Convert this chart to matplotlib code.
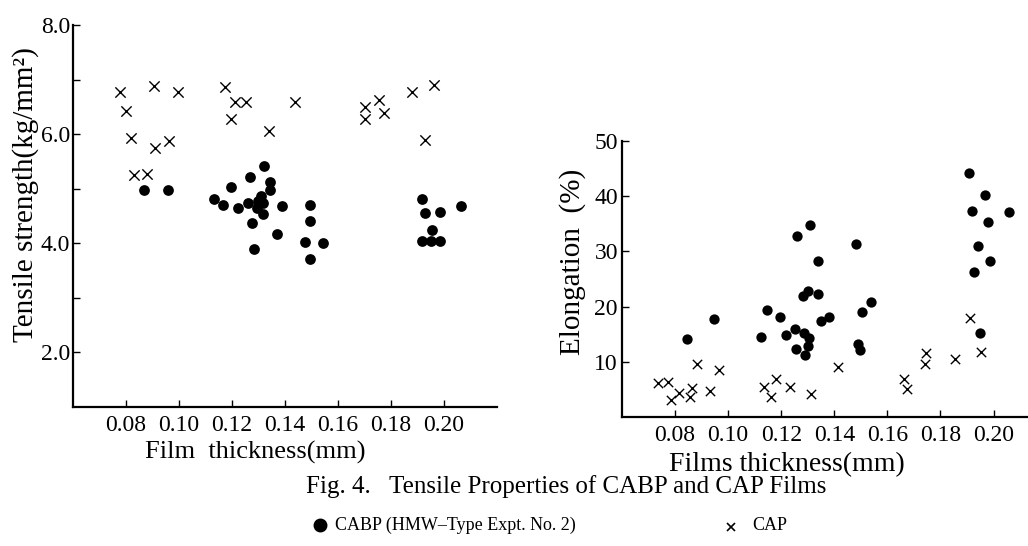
import numpy as np
import matplotlib
matplotlib.use("Agg")
import matplotlib.pyplot as plt
from matplotlib.lines import Line2D

plt.rcParams['font.family'] = ['Liberation Serif', 'DejaVu Serif']

# --- tensile strength (kg/mm2) vs film thickness (mm) ---
ts_cabp_x = [0.0867, 0.0960, 0.1132, 0.1167, 0.1198, 0.1224, 0.1259, 0.1268,
             0.1274, 0.1284, 0.1294, 0.1299, 0.1309, 0.1316, 0.1316, 0.1321,
             0.1342, 0.1345, 0.1389, 0.1369, 0.1477, 0.1496, 0.1494, 0.1496,
             0.1545, 0.1916, 0.1928, 0.1955, 0.1916, 0.1951, 0.1984, 0.1983,
             0.2064]
ts_cabp_y = [4.97, 4.98, 4.82, 4.70, 5.04, 4.64, 4.74, 5.21,
             4.38, 3.90, 4.65, 4.77, 4.86, 4.73, 4.53, 5.41,
             4.97, 5.12, 4.69, 4.17, 4.02, 4.70, 4.40, 3.72,
             4.01, 4.81, 4.55, 4.25, 4.05, 4.05, 4.05, 4.58,
             4.68]
ts_cap_x = [0.0779, 0.0800, 0.0819, 0.0830, 0.0878, 0.0904, 0.0911, 0.0964,
            0.0997, 0.1174, 0.1196, 0.1211, 0.1253, 0.1341, 0.1438, 0.1703,
            0.1703, 0.1756, 0.1775, 0.1878, 0.1928, 0.1963]
ts_cap_y = [6.78, 6.42, 5.93, 5.26, 5.27, 6.89, 5.74, 5.87,
            6.78, 6.86, 6.27, 6.59, 6.59, 6.06, 6.59, 6.50,
            6.27, 6.63, 6.39, 6.78, 5.90, 6.90]

# --- elongation (%) vs film thickness (mm) ---
el_cabp_x = [0.0845, 0.0947, 0.1125, 0.1148, 0.1197, 0.1218, 0.1250, 0.1254,
             0.1258, 0.1282, 0.1284, 0.1291, 0.1301, 0.1301, 0.1306, 0.1308,
             0.1338, 0.1340, 0.1348, 0.1379, 0.1483, 0.1489, 0.1496, 0.1506,
             0.1537, 0.1906, 0.1918, 0.1925, 0.1941, 0.1948, 0.1967, 0.1979,
             0.1987, 0.2057]
el_cabp_y = [14.2, 17.8, 14.4, 19.4, 18.1, 14.8, 16.0, 12.4,
             32.7, 22.0, 15.2, 11.3, 22.8, 12.8, 14.3, 34.7,
             22.3, 28.3, 17.3, 18.2, 31.4, 13.2, 12.2, 19.1,
             20.9, 44.2, 37.3, 26.2, 30.9, 15.2, 40.3, 35.4,
             28.2, 37.2]
el_cap_x = [0.0736, 0.0772, 0.0784, 0.0816, 0.0858, 0.0865, 0.0881, 0.0932,
            0.0964, 0.1135, 0.1161, 0.1181, 0.1234, 0.1311, 0.1415, 0.1664,
            0.1675, 0.1740, 0.1746, 0.1853, 0.1912, 0.1953]
el_cap_y = [6.1, 6.4, 3.1, 4.3, 3.6, 5.3, 9.6, 4.7,
            8.5, 5.4, 3.6, 6.8, 5.4, 4.1, 9.1, 6.8,
            5.1, 9.6, 11.5, 10.5, 17.9, 11.7]

x_ticks = [0.08, 0.10, 0.12, 0.14, 0.16, 0.18, 0.20]
x_ticklabels = ['0.08', '0.10', '0.12', '0.14', '0.16', '0.18', '0.20']


def style_axes(ax):
    for side in ['top', 'right']:
        ax.spines[side].set_visible(False)
    for side in ['left', 'bottom']:
        ax.spines[side].set_linewidth(1.6)
    ax.tick_params(which='both', direction='in', width=1.0, labelsize=17)
    ax.tick_params(which='major', length=5)
    ax.tick_params(which='minor', length=5)
    ax.set_xticks(x_ticks)
    ax.set_xticklabels(x_ticklabels)


fig = plt.figure(figsize=(10.28, 5.46), dpi=100)

# left panel: tensile strength
ax1 = fig.add_axes([0.0710, 0.2546, 0.4125, 0.6996])
ax1.scatter(ts_cabp_x, ts_cabp_y, s=60, c='black', marker='o', linewidths=0)
ax1.scatter(ts_cap_x, ts_cap_y, s=55, c='black', marker='x', linewidths=1.0)
ax1.set_xlim(0.06, 0.22)
ax1.set_ylim(1.0, 8.0)
style_axes(ax1)
ax1.set_yticks([2.0, 4.0, 6.0, 8.0])
ax1.set_yticklabels(['2.0', '4.0', '6.0', '8.0'])
ax1.set_yticks([3.0, 5.0, 7.0], minor=True)
ax1.tick_params(axis='y', pad=2)
ax1.tick_params(axis='x', pad=6)
ax1.set_ylabel('Tensile strength(kg/mm²)', fontsize=21, va='center')
ax1.yaxis.set_label_coords(-0.113, 0.555)
ax1.set_xlabel('Film  thickness(mm)', fontsize=19, va='center')
ax1.xaxis.set_label_coords(0.429, -0.118)

# right panel: elongation
ax2 = fig.add_axes([0.6051, 0.2363, 0.3949, 0.5055])
ax2.scatter(el_cabp_x, el_cabp_y, s=55, c='black', marker='o', linewidths=0)
ax2.scatter(el_cap_x, el_cap_y, s=45, c='black', marker='x', linewidths=1.0)
ax2.set_xlim(0.06, 0.213)
ax2.set_ylim(0, 50)
style_axes(ax2)
ax2.set_yticks([10, 20, 30, 40, 50])
ax2.set_yticklabels(['10', '20', '30', '40', '50'])
ax2.tick_params(axis='y', pad=3)
ax2.tick_params(axis='x', pad=6)
ax2.set_ylabel('Elongation  (%)', fontsize=21, va='center')
ax2.yaxis.set_label_coords(-0.121, 0.562)
ax2.set_xlabel('Films thickness(mm)', fontsize=20, va='center')
ax2.xaxis.set_label_coords(0.406, -0.174)

# caption and legend line
fig.text(0.551, 1 - 487 / 546, 'Fig. 4.   Tensile Properties of CABP and CAP Films',
         ha='center', va='center', fontsize=18)
fig.add_artist(Line2D([320 / 1028], [1 - 525 / 546], marker='o', color='black',
                      markersize=9, linestyle='none', transform=fig.transFigure))
fig.text(335 / 1028, 1 - 525 / 546, 'CABP (HMW–Type Expt. No. 2)',
         ha='left', va='center', fontsize=13)
fig.add_artist(Line2D([731 / 1028], [1 - 527 / 546], marker='x', color='black',
                      markersize=6, markeredgewidth=1.2, linestyle='none',
                      transform=fig.transFigure))
fig.text(752 / 1028, 1 - 525 / 546, 'CAP', ha='left', va='center', fontsize=13)

fig.savefig('out.png', dpi=100)
